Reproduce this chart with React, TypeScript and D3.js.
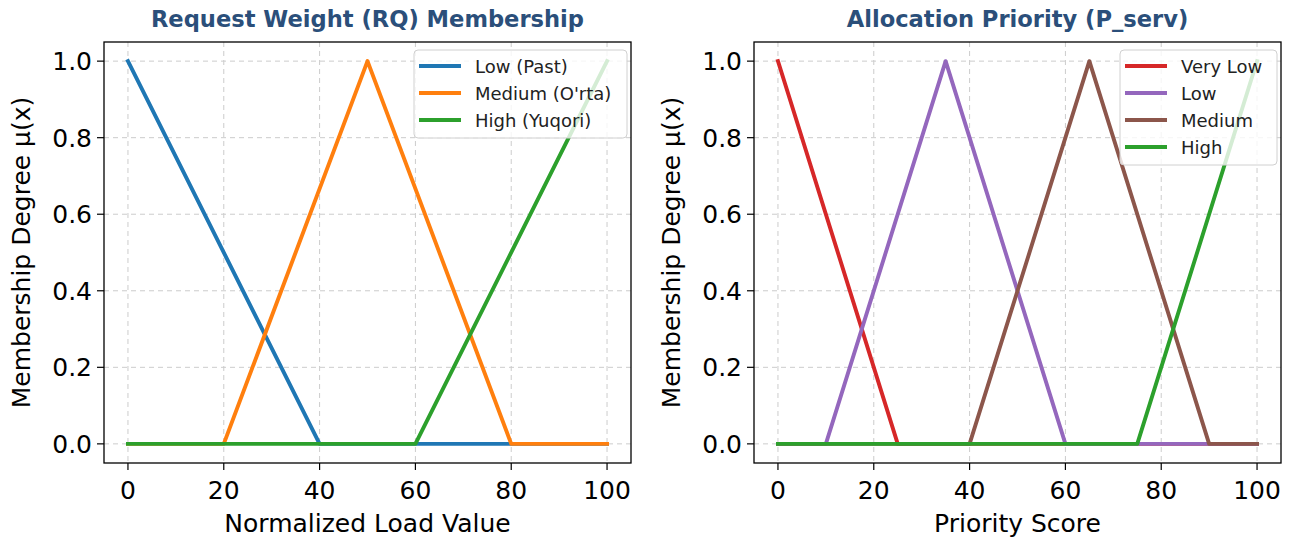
import React from "react";
import * as d3 from "d3";

type Pt = [number, number];

// left panel: request weight
const rqNames = ["Low (Past)", "Medium (O'rta)", "High (Yuqori)"];
const rqLow: Pt[] = [[0, 1], [40, 0], [100, 0]];
const rqMedium: Pt[] = [[0, 0], [20, 0], [50, 1], [80, 0], [100, 0]];
const rqHigh: Pt[] = [[0, 0], [60, 0], [100, 1]];

// right panel: allocation priority
const prNames = ["Very Low", "Low", "Medium", "High"];
const prVeryLow: Pt[] = [[0, 1], [25, 0], [100, 0]];
const prLow: Pt[] = [[0, 0], [10, 0], [35, 1], [60, 0], [100, 0]];
const prMedium: Pt[] = [[0, 0], [40, 0], [65, 1], [90, 0], [100, 0]];
const prHigh: Pt[] = [[0, 0], [75, 0], [100, 1]];

const xTicks = [0, 20, 40, 60, 80, 100];
const yTicks = [0, 0.2, 0.4, 0.6, 0.8, 1.0];

const FONT = "DejaVu Sans, sans-serif";

interface PanelProps {
  left: number;
  title: string;
  xLabel: string;
  series: Pt[][];
  names: string[];
  colors: string[];
  legendWidth: number;
}

function Panel({ left, title, xLabel, series, names, colors, legendWidth }: PanelProps) {
  const top = 42;
  const w = 527;
  const h = 421;
  const x = d3.scaleLinear().domain([-5, 105]).range([0, w]);
  const y = d3.scaleLinear().domain([-0.05, 1.05]).range([h, 0]);
  const line = d3.line<Pt>().x((d) => x(d[0])).y((d) => y(d[1]));

  const lgX = w - legendWidth - 4;
  const lgY = 8;
  const rowH = 27;
  const lgH = 16 + (names.length - 1) * rowH + 18;

  return (
    <g transform={`translate(${left},${top})`}>
      <text x={w / 2} y={-15} textAnchor="middle" fontFamily={FONT} fontWeight="bold"
        fontSize={22.6} fill="#2b4f7a">{title}</text>
      {xTicks.map((t) => (
        <line key={"gx" + t} x1={x(t)} x2={x(t)} y1={0} y2={h} stroke="#cccccc"
          strokeWidth={1} strokeDasharray="5,4" />
      ))}
      {yTicks.map((t) => (
        <line key={"gy" + t} x1={0} x2={w} y1={y(t)} y2={y(t)} stroke="#cccccc"
          strokeWidth={1} strokeDasharray="5,4" />
      ))}
      {series.map((s, i) => (
        <path key={"s" + i} d={line(s) || ""} fill="none" stroke={colors[i]}
          strokeWidth={3.9} strokeLinejoin="round" strokeLinecap="square" />
      ))}
      <rect x={0} y={0} width={w} height={h} fill="none" stroke="#000" strokeWidth={1.3} />
      {xTicks.map((t) => (
        <g key={"tx" + t}>
          <line x1={x(t)} x2={x(t)} y1={h} y2={h + 7} stroke="#000" strokeWidth={1.2} />
          <text x={x(t)} y={h + 36} textAnchor="middle" fontFamily={FONT} fontSize={25}
            fill="#000">{t}</text>
        </g>
      ))}
      {yTicks.map((t) => (
        <g key={"ty" + t}>
          <line x1={-7} x2={0} y1={y(t)} y2={y(t)} stroke="#000" strokeWidth={1.2} />
          <text x={-12} y={y(t) + 9} textAnchor="end" fontFamily={FONT} fontSize={25}
            fill="#000">{t.toFixed(1)}</text>
        </g>
      ))}
      <text x={w / 2} y={h + 69} textAnchor="middle" fontFamily={FONT} fontSize={25}
        fill="#000">{xLabel}</text>
      <text transform={`translate(${-74},${h / 2}) rotate(-90)`} textAnchor="middle"
        fontFamily={FONT} fontSize={25} fill="#000">Membership Degree μ(x)</text>
      <g transform={`translate(${lgX},${lgY})`}>
        <rect x={0} y={0} width={legendWidth} height={lgH} rx={4} fill="#fff"
          fillOpacity={0.8} stroke="#d0d0d0" strokeWidth={1} />
        {names.map((n, i) => (
          <g key={n} transform={`translate(0,${16 + i * rowH})`}>
            <line x1={5} x2={47} y1={0} y2={0} stroke={colors[i]} strokeWidth={3.9} />
            <text x={61} y={6.5} fontFamily={FONT} fontSize={18} fill="#222">{n}</text>
          </g>
        ))}
      </g>
    </g>
  );
}

export default function App() {
  return (
    <svg width={1293} height={542} viewBox="0 0 1293 542"
      style={{ position: "absolute", left: 0, top: 0, background: "#fff" }}>
      <rect width={1293} height={542} fill="#fff" />
      <Panel left={104} title="Request Weight (RQ) Membership" xLabel="Normalized Load Value"
        series={[rqLow, rqMedium, rqHigh]} names={rqNames}
        colors={["#1f77b4", "#ff7f0e", "#2ca02c"]} legendWidth={213} />
      <Panel left={754} title="Allocation Priority (P_serv)" xLabel="Priority Score"
        series={[prVeryLow, prLow, prMedium, prHigh]} names={prNames}
        colors={["#d62728", "#9467bd", "#8c564b", "#2ca02c"]} legendWidth={157} />
    </svg>
  );
}
